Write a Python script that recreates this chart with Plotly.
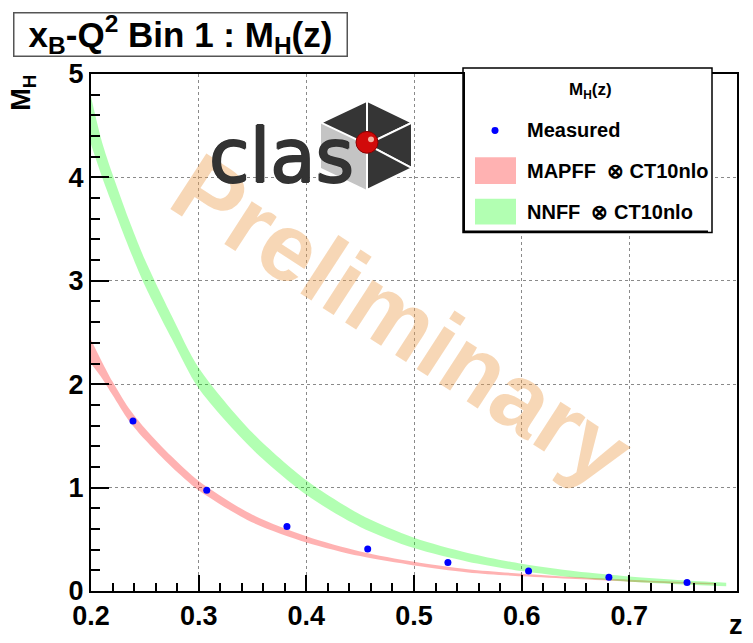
import plotly.graph_objects as go

# ---------------- data ----------------
z_meas = [0.239, 0.3075, 0.382, 0.457, 0.5315, 0.6064, 0.681, 0.7536]
mh_meas = [1.645, 0.974, 0.623, 0.405, 0.275, 0.194, 0.134, 0.083]

z_green = [0.200, 0.210, 0.220, 0.235, 0.250, 0.275, 0.300, 0.350, 0.400, 0.450,
           0.500, 0.550, 0.600, 0.650, 0.700, 0.750, 0.790]
green_lo = [4.32, 4.01, 3.73, 3.325, 2.955, 2.44, 1.96, 1.37, 0.93, 0.62,
            0.415, 0.283, 0.193, 0.13, 0.09, 0.063, 0.045]
green_hi = [4.78, 4.35, 4.03, 3.595, 3.205, 2.66, 2.16, 1.53, 1.07, 0.74,
            0.515, 0.368, 0.263, 0.19, 0.14, 0.103, 0.08]

z_red = [0.200, 0.210, 0.220, 0.235, 0.250, 0.275, 0.300, 0.350, 0.400, 0.450,
         0.500, 0.550, 0.600, 0.650, 0.700, 0.750, 0.780]
red_lo = [2.20, 2.06, 1.895, 1.65, 1.465, 1.20, 0.975, 0.6625, 0.47, 0.3375,
          0.2475, 0.18, 0.1425, 0.115, 0.09, 0.0725, 0.0625]
red_hi = [2.43, 2.22, 2.025, 1.77, 1.575, 1.30, 1.065, 0.7375, 0.53, 0.3825,
          0.2825, 0.21, 0.1675, 0.135, 0.11, 0.0875, 0.0775]

x_ticks = [0.2, 0.3, 0.4, 0.5, 0.6, 0.7, 0.8]
y_ticks = [0, 1, 2, 3, 4, 5]

RED_FILL = "rgba(255,0,0,0.30)"
GREEN_FILL = "rgba(0,255,0,0.30)"
FONT = "Liberation Sans"

# ---------------- figure ----------------
W, H = 753, 643
L, R, T, B = 91, 16, 74, 47
PW, PH = W - L - R, H - T - B


def px(x):
    return (x - L) / PW


def py(y):
    return (H - B - y) / PH


fig = go.Figure()

# red band
fig.add_trace(go.Scatter(x=z_red, y=red_lo, mode="lines",
                         line=dict(width=0, shape="spline", smoothing=0.8),
                         showlegend=False, hoverinfo="skip"))
fig.add_trace(go.Scatter(x=z_red, y=red_hi, mode="lines",
                         line=dict(width=0, shape="spline", smoothing=0.8),
                         fill="tonexty", fillcolor=RED_FILL, name="MAPFF ⊗ CT10nlo",
                         showlegend=False))
# green band
fig.add_trace(go.Scatter(x=z_green, y=green_lo, mode="lines",
                         line=dict(width=0, shape="spline", smoothing=0.8),
                         showlegend=False, hoverinfo="skip"))
fig.add_trace(go.Scatter(x=z_green, y=green_hi, mode="lines",
                         line=dict(width=0, shape="spline", smoothing=0.8),
                         fill="tonexty", fillcolor=GREEN_FILL, name="NNFF ⊗ CT10nlo",
                         showlegend=False))
# measured points
fig.add_trace(go.Scatter(x=z_meas, y=mh_meas, mode="markers", name="Measured",
                         marker=dict(color="#0000ff", size=7, line=dict(width=0)),
                         showlegend=False))

axis_common = dict(
    ticks="inside", tickcolor="black", tickwidth=2,
    showline=True, linecolor="black", linewidth=2, mirror=True,
    showgrid=True, gridcolor="#8a8a8a", griddash="dot", gridwidth=1,
    zeroline=False,
    tickfont=dict(family=FONT, size=27, color="black", weight="bold"),
)

fig.update_xaxes(range=[0.2, 0.8], tickvals=x_ticks, ticktext=[f"{v:.1f}" for v in x_ticks],
                 ticklen=16,
                 minor=dict(dtick=0.02, tick0=0.2, ticks="inside", ticklen=8, tickwidth=1.5,
                            tickcolor="black", showgrid=False),
                 **axis_common)
fig.update_yaxes(range=[0, 5], tickvals=y_ticks, ticktext=[str(v) for v in y_ticks],
                 ticklen=18,
                 minor=dict(dtick=0.2, tick0=0, ticks="inside", ticklen=9, tickwidth=1.5,
                            tickcolor="black", showgrid=False),
                 **axis_common)

shapes = []
annotations = []

# ---- watermark ----
annotations.append(dict(
    x=px(402), y=py(322), xref="paper", yref="paper", showarrow=False,
    text="Preliminary", textangle=33,
    font=dict(family=FONT, size=96, color="rgba(235,160,80,0.42)", weight="bold"),
    xanchor="center", yanchor="middle"))

# ---- CLAS logo ----
C = (367, 145)
Tv, UR, LR, Bv, LL, UL = (367, 101), (412, 123), (412, 169), (367, 191), (321, 169), (321, 123)


def path(pts):
    return "M " + " L ".join(f"{px(a):.5f},{py(b):.5f}" for a, b in pts) + " Z"


shapes.append(dict(type="path", xref="paper", yref="paper", path=path([UL, C, Bv, LL]),
                   fillcolor="#c4c4c4", line=dict(width=0), layer="above"))
for tri in ([UL, Tv, C], [Tv, UR, C], [UR, LR, C], [LR, Bv, C]):
    shapes.append(dict(type="path", xref="paper", yref="paper", path=path(tri),
                       fillcolor="#353535", line=dict(color="white", width=2), layer="above"))
annotations.append(dict(
    x=px(207), y=py(157), xref="paper", yref="paper", showarrow=False,
    text="clas",
    font=dict(family="DejaVu Sans", size=74, color="#333333",
              shadow="1px 0px 0px #333333, -1px 0px 0px #333333, 0px 1px 0px #333333, 0px -1px 0px #333333"),
    xanchor="left", yanchor="middle"))
shapes.append(dict(type="circle", xref="paper", yref="paper",
                   x0=px(C[0] - 11), x1=px(C[0] + 11), y0=py(C[1] - 2 + 11), y1=py(C[1] - 2 - 11),
                   fillcolor="#d10a0a", line=dict(color="#8a0000", width=1), layer="above"))
shapes.append(dict(type="circle", xref="paper", yref="paper",
                   x0=px(C[0] + 1), x1=px(C[0] + 7), y0=py(C[1] - 5 + 3), y1=py(C[1] - 5 - 3),
                   fillcolor="#f5b0a0", line=dict(width=0), layer="above"))

# ---- title box ----
annotations.append(dict(
    x=px(180), y=py(34), xref="paper", yref="paper", showarrow=False,
    text="<b>x<sub>B</sub>-Q<sup>2</sup> Bin 1 : M<sub>H</sub>(z)</b>",
    font=dict(family=FONT, size=35, color="black"),
    xanchor="center", yanchor="middle", width=330, height=40,
    bordercolor="#555555", borderwidth=1.5, borderpad=1, bgcolor="white"))

# ---- axis titles ----
annotations.append(dict(
    x=px(23), y=py(93), xref="paper", yref="paper", showarrow=False,
    text="<b>M<sub>H</sub></b>", textangle=-90,
    font=dict(family=FONT, size=27, color="black"), xanchor="center", yanchor="middle"))
annotations.append(dict(
    x=px(736), y=py(630), xref="paper", yref="paper", showarrow=False,
    text="<b>z</b>", font=dict(family=FONT, size=27, color="black"),
    xanchor="center", yanchor="middle"))

# ---- legend ----
lx0, ly0, lx1, ly1 = 463, 68, 712, 234
shapes.append(dict(type="rect", xref="paper", yref="paper",
                   x0=px(lx0), x1=px(lx1), y0=py(ly1), y1=py(ly0),
                   fillcolor="white", line=dict(color="black", width=1.5), layer="above"))
shapes.append(dict(type="path", xref="paper", yref="paper",
                   path=f"M {px(lx0+1)},{py(ly0+4)} L {px(lx0+1)},{py(ly1-1)} L {px(lx1-4)},{py(ly1-1)}",
                   line=dict(color="black", width=2), layer="above"))
annotations.append(dict(
    x=px(590), y=py(91), xref="paper", yref="paper", showarrow=False,
    text="<b>M<sub>H</sub>(z)</b>", font=dict(family=FONT, size=17, color="black"),
    xanchor="center", yanchor="middle"))
shapes.append(dict(type="circle", xref="paper", yref="paper",
                   x0=px(491.5), x1=px(498.5), y0=py(134.5), y1=py(127.5),
                   fillcolor="#0000ff", line=dict(width=0), layer="above"))
shapes.append(dict(type="rect", xref="paper", yref="paper",
                   x0=px(475), x1=px(516), y0=py(185), y1=py(158),
                   fillcolor=RED_FILL, line=dict(width=0), layer="above"))
shapes.append(dict(type="rect", xref="paper", yref="paper",
                   x0=px(475), x1=px(516), y0=py(226), y1=py(200),
                   fillcolor=GREEN_FILL, line=dict(width=0), layer="above"))
for text, yy in (("Measured", 131), ("MAPFF  ⊗ CT10nlo", 172), ("NNFF  ⊗ CT10nlo", 213)):
    annotations.append(dict(
        x=px(525), y=py(yy), xref="paper", yref="paper", showarrow=False,
        text=f"<b>{text}</b>", font=dict(family=FONT, size=20, color="black"),
        xanchor="left", yanchor="middle"))

fig.update_layout(
    width=W, height=H, margin=dict(l=L, r=R, t=T, b=B),
    paper_bgcolor="white", plot_bgcolor="white",
    showlegend=False, shapes=shapes, annotations=annotations,
)

fig.write_html("out.html")
